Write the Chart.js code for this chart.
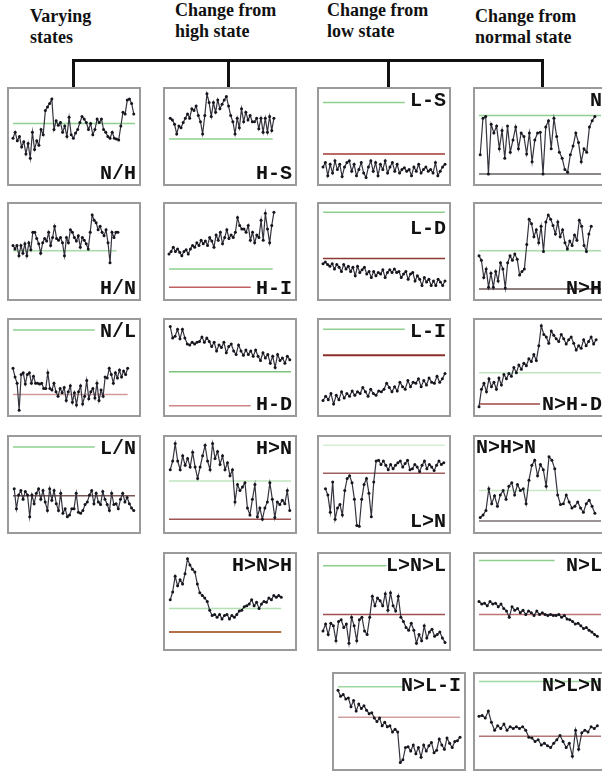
<!DOCTYPE html>
<html lang="en">
<head>
<meta charset="UTF-8">
<title>State change patterns</title>
<script src="https://cdn.jsdelivr.net/npm/chart.js"></script>
<style>
  body { margin: 0; background: #fff; width: 602px; height: 774px; overflow: hidden; position: relative; }
  .head { position: absolute; font: bold 18px "Liberation Serif", "Times New Roman", serif; line-height: 21px; color: #111; white-space: nowrap; }
  .bar { position: absolute; background: #111; }
  .panel { position: absolute; width: 130px; height: 95px; border: 2px solid #9a9a9a; background: #fff; }
  .panel canvas { position: absolute; left: 0; top: 0; }
  .tag { position: absolute; font: bold 20px "Liberation Mono", "Courier New", monospace; line-height: 20px; color: #111; white-space: nowrap; }
</style>
</head>
<body>
<div class="head" style="left:30px;top:6px">Varying<br>states</div>
<div class="head" style="left:175px;top:0px">Change from<br>high state</div>
<div class="head" style="left:327px;top:0px">Change from<br>low state</div>
<div class="head" style="left:475px;top:6px">Change from<br>normal state</div>

<div class="bar" style="left:72px;top:59px;width:472px;height:3px"></div>
<div class="bar" style="left:72px;top:59px;width:3px;height:28px"></div>
<div class="bar" style="left:227px;top:59px;width:3px;height:28px"></div>
<div class="bar" style="left:387px;top:59px;width:3px;height:28px"></div>
<div class="bar" style="left:541px;top:59px;width:3px;height:28px"></div>

<script>
// panel labels, row by row
const panelLabels = ['N/H', 'H-S', 'L-S', 'N',
                     'H/N', 'H-I', 'L-D', 'N>H',
                     'N/L', 'H-D', 'L-I', 'N>H-D',
                     'L/N', 'H>N', 'L>N', 'N>H>N',
                     'H>N>H', 'L>N>L', 'N>L',
                     'N>L-I', 'N>L>N'];

// reference levels (0 = box bottom, 100 = box top), and where each line stops (fraction of width)
const greenLevels = [65, 47, 89, 74,  51, 30, 95, 51,  93, 45, 94, 44,  93, 54, 95, 43,  42, 91, 97,  90, 96];
const greenEnds   = [1, 0.85, 0.67, 1,  0.85, 0.85, 1, 1,  0.67, 1, 0.67, 1,  0.67, 1, 1, 1,  0.92, 0.52, 0.62,  0.53, 1];
const redLevels   = [null, null, 30, 7,  null, 9, 42, 7,  19, 6, 64, 8,  37, 10, 63, 8,  15, 35, 35,  55, 33];
const redEnds     = [0, 0, 1, 1,  0, 0.67, 1, 1,  0.94, 0.67, 1, 0.5,  1, 1, 1, 1,  0.92, 1, 1,  1, 1];

// measured series
const seriesNH = [48,55,45,50,38,44,30,42,25,55,35,45,40,58,52,80,84,88,93,58,68,63,66,55,62,50,72,52,48,54,58,66,73,70,66,58,65,52,58,70,66,70,58,55,50,48,55,48,47,46,62,78,76,92,93,88,76];
const seriesHS = [71,69,64,53,62,60,66,71,76,71,82,80,85,74,67,53,74,99,89,73,89,78,92,82,87,92,96,85,74,67,53,71,60,82,67,78,69,74,67,67,71,59,71,55,71,55,73,57,71];
const seriesLS = [15,20,5,18,8,22,12,18,4,15,20,22,10,18,5,12,20,8,3,15,22,10,20,5,18,12,22,8,15,20,10,18,8,12,14,10,12,5,15,10,18,8,12,15,10,12,8,20,5,10,15,18];
const seriesN = [29,71,73,7,64,54,62,36,57,25,62,32,46,61,36,54,50,30,54,21,46,54,55,7,61,68,36,71,50,32,25,12,9,29,39,54,43,21,36,32,61,68,73];
const seriesHN = [57,53,57,45,57,48,59,45,60,52,72,72,65,59,48,60,65,62,72,57,66,79,65,63,66,60,45,66,60,75,72,66,62,68,55,66,63,59,53,72,92,86,83,75,79,72,68,75,60,37,72,66,72,72];
const seriesHI = [47,50,55,50,53,49,45,50,52,47,53,57,55,60,57,63,59,62,57,66,62,55,69,63,72,59,66,75,65,69,66,72,89,80,76,76,72,80,63,72,60,69,66,86,63,94,76,60,80,95];
const seriesLD = [36,38,35,33,36,30,35,32,27,35,30,33,27,32,22,33,26,29,32,24,27,20,27,22,26,24,29,20,26,29,26,30,26,27,20,24,27,18,24,26,16,22,18,11,20,15,18,11,16,11,18,15,11,16];
const seriesNtoH = [45,40,20,30,9,25,9,27,16,37,30,8,37,45,40,47,41,23,27,30,58,87,82,67,75,60,79,50,84,92,87,80,70,84,67,75,60,53,62,57,69,63,86,79,57,50,70,79];
const seriesNL = [49,39,32,1,42,44,31,42,44,32,40,32,32,31,32,26,26,44,26,24,32,22,17,26,21,27,12,22,29,10,21,7,22,29,8,17,35,14,22,26,15,32,12,24,17,39,38,49,42,32,44,38,47,39,46,42,49];
const seriesHD = [97,84,86,94,83,94,84,77,76,79,77,79,80,85,79,84,80,74,79,69,76,73,79,67,74,77,69,65,76,69,64,70,65,69,63,70,63,58,67,61,65,55,63,50,65,58,61,55,63,59];
const seriesLI = [12,17,13,20,8,18,13,22,15,20,17,23,18,22,20,27,22,17,25,20,18,23,22,25,32,27,22,28,23,33,28,25,35,28,33,32,37,28,35,30,38,33,32,40,33,37,43];
const seriesNHD = [5,25,32,22,37,28,33,25,38,30,42,37,43,40,50,44,53,48,55,52,60,57,65,58,75,98,88,85,78,92,87,83,80,88,83,77,82,85,78,70,75,72,82,75,80,85,77,82];
const seriesLN = [45,22,38,43,33,42,38,13,38,28,40,45,33,43,30,20,45,32,43,28,20,40,17,22,13,15,22,22,40,18,17,20,27,30,38,43,28,40,30,27,42,33,27,20,40,27,28,22,33,40,30,35,28,23,20];
const seriesHtoN = [67,77,97,77,67,83,72,80,70,87,70,57,70,83,95,77,67,97,80,88,73,83,67,75,60,67,30,50,43,47,52,23,15,33,50,13,23,10,23,30,52,33,12,30,27,32,28,43,20];
const seriesLtoN = [45,38,18,53,10,23,27,15,43,57,60,52,33,3,2,33,50,57,40,13,53,77,78,73,77,72,67,73,68,72,75,77,70,74,78,67,68,73,70,65,72,77,68,73,70,66,72,77,73,75];
const seriesNHN = [12,15,20,45,28,37,25,38,43,33,48,52,38,50,43,45,28,55,72,78,60,73,67,48,82,78,68,38,27,28,38,30,23,25,30,23,18,28,32,25,17];
const seriesHNH = [52,61,79,68,75,70,82,99,92,87,84,70,60,57,54,50,40,34,35,32,35,30,34,35,30,34,32,35,39,40,44,45,47,52,45,49,42,47,50,49,54,52,57,55,57,55];
const seriesLNL = [16,24,12,25,22,5,27,29,20,24,2,32,22,5,29,32,16,12,32,56,45,54,51,45,59,40,60,45,39,56,32,27,20,17,25,17,2,12,5,22,8,15,18,10,12,15,8,3];
const seriesNtoL = [50,47,48,45,50,47,48,44,47,42,39,32,44,40,42,37,40,35,39,37,34,39,35,37,35,34,35,34,34,35,32,34,30,29,27,24,25,22,19,20,17,15,12,10];
const seriesNLI = [86,79,81,76,77,67,74,62,70,65,68,63,59,60,54,50,54,45,49,44,45,38,41,38,3,6,20,21,16,23,13,20,9,23,16,22,26,14,17,30,23,18,31,25,20,27,28,32];
const seriesNLN = [56,57,54,62,49,40,45,42,47,40,44,42,44,42,44,40,32,31,27,29,23,25,22,20,25,29,34,27,20,25,10,40,18,37,40,38,44,42,45];

const allSeries = [seriesNH, seriesHS, seriesLS, seriesN,
                   seriesHN, seriesHI, seriesLD, seriesNtoH,
                   seriesNL, seriesHD, seriesLI, seriesNHD,
                   seriesLN, seriesHtoN, seriesLtoN, seriesNHN,
                   seriesHNH, seriesLNL, seriesNtoL,
                   seriesNLI, seriesNLN];
// horizontal extent of each series (fractions of the box width)
const seriesSpans = [[0, 0.99], [0.01, 0.86], [0, 1], [0.01, 0.95],
                     [0, 0.86], [0, 0.86], [0, 1], [0, 0.92],
                     [0, 0.94], [0.01, 0.99], [0, 1], [0, 0.96],
                     [0.01, 0.99], [0.01, 0.99], [0.02, 0.99], [0.01, 0.95],
                     [0.01, 0.92], [0, 1], [0, 0.97],
                     [0, 1], [0, 0.97]];

// layout: box left/top, label corner, label vertical offset
const layout = [
  [7, 87, 'br'], [163, 87, 'br'], [317, 87, 'tr'], [473, 87, 'tr'],
  [7, 202, 'br'], [163, 202, 'br'], [317, 202, 'tr', 15], [473, 202, 'br'],
  [7, 318, 'tr'], [163, 318, 'br'], [317, 318, 'tr'], [473, 318, 'br'],
  [7, 435, 'tr'], [163, 435, 'tr'], [317, 435, 'br'], [473, 435, 'tl'],
  [163, 552, 'tr'], [317, 552, 'tr'], [473, 552, 'tr'],
  [332, 672, 'tr'], [473, 672, 'tr']
];
const greenColors = ['#8fd08f', '#8fd08f', '#8fd08f', '#8fd08f', '#a8dca8', '#8fd08f', '#8fd08f', '#a8dca8',
                     '#8fd08f', '#7cc47c', '#8fd08f', '#bfe6bf', '#8fd08f', '#bfe6bf', '#d3eed3', '#c6e8c6',
                     '#b4e0b4', '#8fd08f', '#8fd08f', '#9fd89f', '#9fd89f'];
const redColors = ['#a04a40', '#a04a40', '#a03a30', '#666060', '#a04a40', '#c06060', '#8a3a30', '#6a5555',
                   '#d09a9a', '#d08585', '#8b2f2a', '#a04545', '#7a5555', '#a05555', '#a06060', '#7a7070',
                   '#b07048', '#a05050', '#c07575', '#d0a0a0', '#b07575'];

function drawPanel(i) {
  const [left, top, corner, dy] = layout[i];
  const box = document.createElement('div');
  box.className = 'panel';
  box.style.left = left + 'px';
  box.style.top = top + 'px';
  const canvas = document.createElement('canvas');
  canvas.width = 130;
  canvas.height = 95;
  box.appendChild(canvas);
  const tag = document.createElement('div');
  tag.className = 'tag';
  tag.textContent = panelLabels[i];
  if (corner === 'br') { tag.style.right = '3px'; tag.style.bottom = '0px'; }
  if (corner === 'tr') { tag.style.right = '3px'; tag.style.top = (dy || 2) + 'px'; }
  if (corner === 'tl') { tag.style.left = '1px'; tag.style.top = '1px'; }
  box.appendChild(tag);
  document.body.appendChild(box);

  const s = allSeries[i];
  const [x0, x1] = seriesSpans[i];
  const pts = s.map((v, k) => ({ x: x0 + (x1 - x0) * k / (s.length - 1), y: v }));
  const datasets = [{
    data: pts,
    borderColor: '#34343e',
    borderWidth: 1.2,
    pointRadius: 1.5,
    pointBorderWidth: 0,
    pointBackgroundColor: '#15151d',
    tension: 0,
    clip: false
  }];
  const g = greenLevels[i];
  datasets.push({
    data: [{ x: 0, y: g }, { x: greenEnds[i], y: g }],
    borderColor: greenColors[i], borderWidth: 1.5, pointRadius: 0
  });
  const r = redLevels[i];
  if (r !== null) {
    datasets.push({
      data: [{ x: 0, y: r }, { x: redEnds[i], y: r }],
      borderColor: redColors[i], borderWidth: i === 10 || i === 16 ? 2 : 1.5, pointRadius: 0
    });
  }
  new Chart(canvas, {
    type: 'line',
    data: { datasets: datasets },
    options: {
      responsive: false,
      animation: false,
      events: [],
      layout: { padding: 0 },
      plugins: { legend: { display: false }, tooltip: { enabled: false } },
      scales: {
        x: { type: 'linear', display: false, min: 0, max: 1 },
        y: { display: false, min: 0, max: 100 }
      }
    }
  });
}

for (let i = 0; i < panelLabels.length; i++) drawPanel(i);
</script>
</body>
</html>
